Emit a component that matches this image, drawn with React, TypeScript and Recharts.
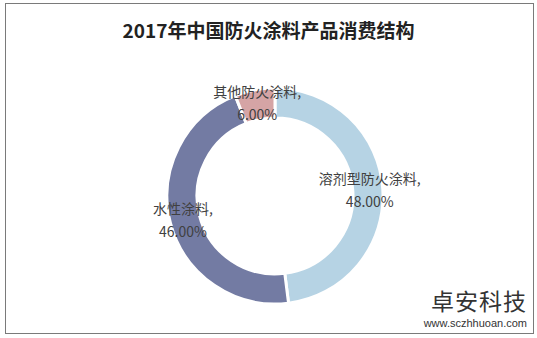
import React from 'react';
import { PieChart, Pie, Cell } from 'recharts';

const categories = ['溶剂型防火涂料', '水性涂料', '其他防火涂料'];
const shares = [48, 46, 6];
const colors = ['#b6d3e4', '#737ba3', '#d5a4a5'];

const data = categories.map((name, i) => ({ name, value: shares[i] }));

const RADIAN = Math.PI / 180;
const FONT = '"Noto Sans CJK SC", "Microsoft YaHei", sans-serif';

const renderLabel = (props: any) => {
  const { cx, cy, midAngle, name, value } = props;
  const r = 95;
  const x = cx + r * Math.cos(-midAngle * RADIAN);
  const y = cy + r * Math.sin(-midAngle * RADIAN);
  return (
    <text x={x} y={y} textAnchor="middle" fill="#404040" fontSize={14} fontFamily={FONT}>
      <tspan x={x} dy={-6}>{name},</tspan>
      <tspan x={x} dy={23}>{value.toFixed(2)}%</tspan>
    </text>
  );
};

const App: React.FC = () => {
  return (
    <div style={{ position: 'absolute', left: 0, top: 0, width: 537, height: 338, background: '#fff', fontFamily: FONT }}>
      <div style={{ position: 'absolute', left: 5, top: 3, width: 527, height: 329, border: '1px solid #7a7a7a' }} />
      <div style={{ position: 'absolute', left: 0, top: 17, width: 537, textAlign: 'center', fontSize: 19, fontWeight: 'bold', color: '#222', lineHeight: '26px' }}>
        2017年中国防火涂料产品消费结构
      </div>
      <PieChart width={537} height={338} style={{ position: 'absolute', left: 0, top: 0 }}>
        <Pie
          data={data}
          dataKey="value"
          nameKey="name"
          cx={270}
          cy={191}
          innerRadius={78}
          outerRadius={108}
          startAngle={90}
          endAngle={-270}
          stroke="#fff"
          strokeWidth={3}
          label={renderLabel}
          labelLine={false}
          isAnimationActive={false}
        >
          {data.map((d, i) => (
            <Cell key={d.name} fill={colors[i]} />
          ))}
        </Pie>
      </PieChart>
      <div style={{ position: 'absolute', right: 10, top: 284, textAlign: 'right', color: '#333' }}>
        <div style={{ fontSize: 23, lineHeight: '33px', letterSpacing: 1 }}>卓安科技</div>
        <div style={{ fontSize: 11, lineHeight: '13px', fontFamily: 'Arial, "Liberation Sans", sans-serif' }}>www.sczhhuoan.com</div>
      </div>
    </div>
  );
};

export default App;
